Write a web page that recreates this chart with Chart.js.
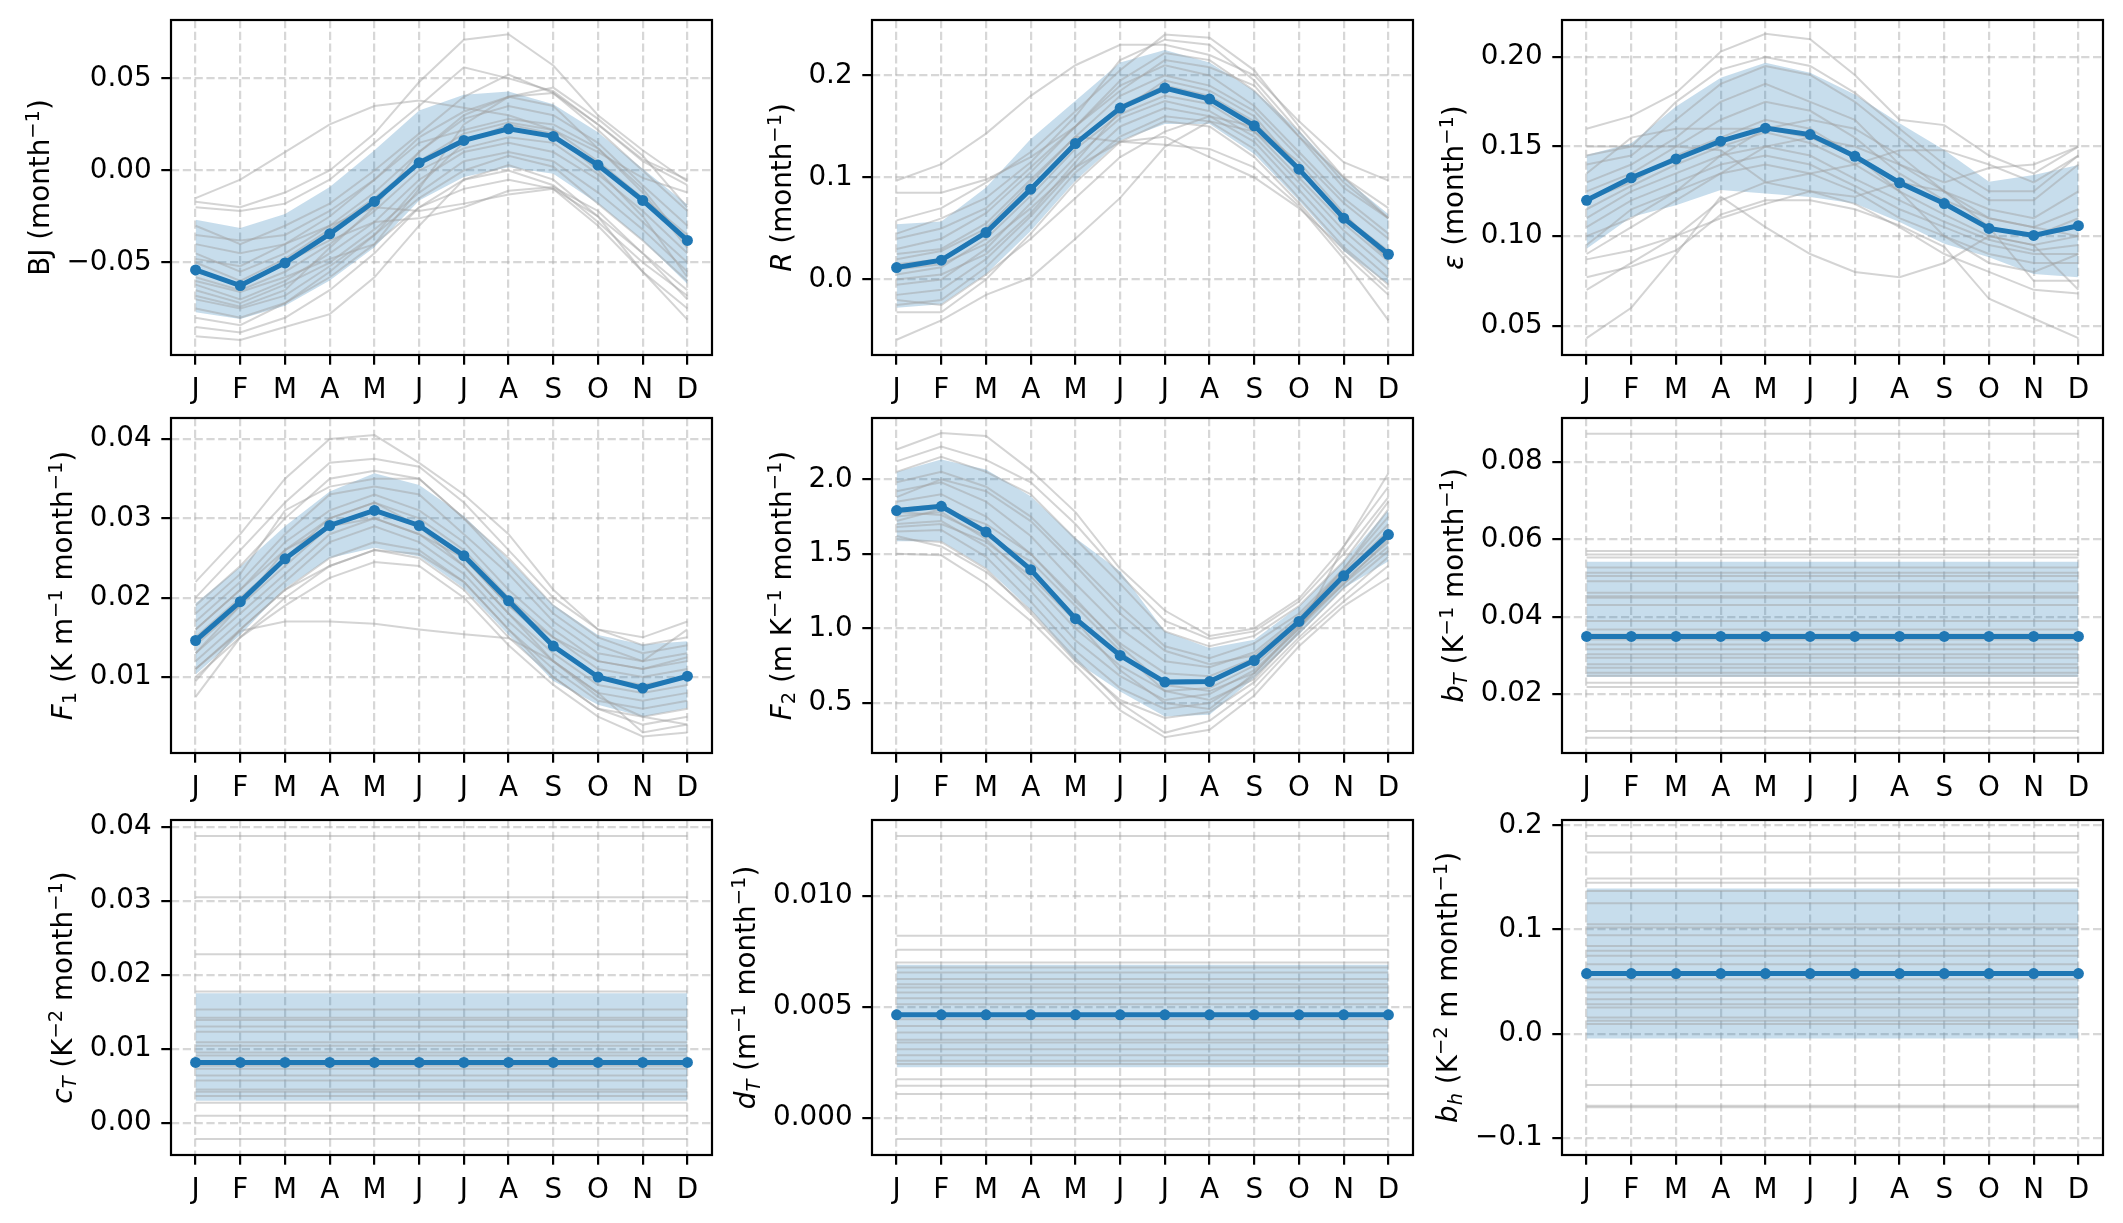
<!DOCTYPE html>
<html>
<head>
<meta charset="utf-8">
<script src="https://cdn.jsdelivr.net/npm/chart.js@4.4.0/dist/chart.umd.min.js"></script>
<style>
  body { margin: 0; background: #fff; width: 2123px; height: 1223px; position: relative; overflow: hidden; }
  canvas { position: absolute; }
</style>
</head>
<body>
<script>
// month ticks
const months = ['J', 'F', 'M', 'A', 'M', 'J', 'J', 'A', 'S', 'O', 'N', 'D'];

// ---- BJ ----
const bjMean  = [-0.054, -0.0625, -0.0502, -0.0344, -0.0168, 0.0042, 0.0163, 0.0226, 0.0185, 0.0029, -0.0163, -0.038];
const bjUpper = [-0.0268, -0.0313, -0.0236, -0.009, 0.011, 0.0326, 0.0411, 0.0429, 0.0359, 0.0208, 0.0009, -0.0185];
const bjLower = [-0.077, -0.0806, -0.0734, -0.0598, -0.0417, -0.0163, -0.0036, 0.0018, -0.0018, -0.0181, -0.038, -0.0616];
const bjMembers = [
  [-0.015, -0.005, 0.010, 0.025, 0.035, 0.038, 0.034, 0.030, 0.022, 0.010, -0.004, -0.012],
  [-0.017, -0.020, -0.012, 0.000, 0.020, 0.048, 0.071, 0.074, 0.057, 0.030, 0.011, -0.006],
  [-0.020, -0.022, -0.018, -0.005, 0.015, 0.035, 0.056, 0.050, 0.043, 0.025, 0.005, -0.008],
  [-0.030, -0.040, -0.030, -0.018, 0.000, 0.020, 0.040, 0.052, 0.042, 0.022, 0.000, -0.022],
  [-0.045, -0.055, -0.045, -0.030, -0.012, 0.010, 0.028, 0.035, 0.030, 0.015, -0.008, -0.030],
  [-0.050, -0.060, -0.048, -0.032, -0.015, 0.005, 0.020, 0.026, 0.022, 0.005, -0.015, -0.035],
  [-0.058, -0.065, -0.055, -0.040, -0.022, 0.000, 0.012, 0.018, 0.015, -0.002, -0.022, -0.045],
  [-0.062, -0.070, -0.060, -0.045, -0.028, -0.005, 0.010, 0.015, 0.010, -0.005, -0.028, -0.050],
  [-0.065, -0.072, -0.062, -0.050, -0.032, -0.012, 0.005, 0.010, 0.005, -0.012, -0.032, -0.055],
  [-0.070, -0.075, -0.068, -0.052, -0.035, -0.015, 0.000, 0.008, 0.002, -0.018, -0.038, -0.060],
  [-0.075, -0.080, -0.072, -0.058, -0.040, -0.020, -0.005, 0.003, -0.005, -0.025, -0.045, -0.065],
  [-0.085, -0.088, -0.080, -0.065, -0.045, -0.020, -0.010, -0.005, -0.010, -0.030, -0.055, -0.075],
  [-0.090, -0.092, -0.085, -0.078, -0.058, -0.030, -0.005, 0.000, -0.008, -0.028, -0.050, -0.068],
  [-0.040, -0.045, -0.040, -0.030, -0.020, -0.022, -0.018, -0.013, -0.010, -0.025, -0.055, -0.081],
  [-0.055, -0.062, -0.050, -0.038, -0.028, -0.026, -0.020, -0.011, -0.009, -0.022, -0.045, -0.070],
  [-0.060, -0.066, -0.058, -0.048, -0.040, -0.010, 0.025, 0.040, 0.045, 0.028, 0.008, -0.020],
  [-0.080, -0.084, -0.072, -0.055, -0.035, -0.008, 0.015, 0.025, 0.020, 0.000, -0.025, -0.058],
  [-0.068, -0.074, -0.065, -0.042, -0.020, 0.010, 0.030, 0.040, 0.035, 0.012, -0.010, -0.040],
  [-0.035, -0.038, -0.035, -0.022, -0.005, 0.018, 0.032, 0.040, 0.042, 0.025, 0.006, -0.005],
  [-0.048, -0.052, -0.040, -0.025, -0.005, 0.015, 0.022, 0.028, 0.025, 0.012, -0.012, -0.042]
];

// ---- R ----
const rMean  = [0.0118, 0.019, 0.0461, 0.0886, 0.1333, 0.168, 0.1876, 0.1768, 0.1507, 0.1082, 0.0601, 0.0248];
const rUpper = [0.0542, 0.0569, 0.0902, 0.1376, 0.1752, 0.2127, 0.2248, 0.2127, 0.185, 0.1458, 0.1, 0.064];
const rLower = [-0.0275, -0.0242, 0.0052, 0.0477, 0.0967, 0.136, 0.1523, 0.1523, 0.1229, 0.0771, 0.0281, -0.0046];
const rMembers = [
  [0.058, 0.070, 0.095, 0.125, 0.165, 0.205, 0.240, 0.237, 0.205, 0.150, 0.100, 0.060],
  [0.097, 0.113, 0.143, 0.180, 0.210, 0.230, 0.230, 0.220, 0.200, 0.155, 0.115, 0.097],
  [0.085, 0.085, 0.098, 0.120, 0.150, 0.185, 0.215, 0.208, 0.190, 0.140, 0.100, 0.070],
  [0.040, 0.050, 0.070, 0.110, 0.150, 0.195, 0.222, 0.215, 0.185, 0.140, 0.090, 0.060],
  [0.025, 0.030, 0.055, 0.098, 0.140, 0.180, 0.200, 0.190, 0.165, 0.120, 0.075, 0.040],
  [0.015, 0.020, 0.048, 0.090, 0.135, 0.170, 0.190, 0.180, 0.155, 0.110, 0.062, 0.028],
  [0.005, 0.012, 0.040, 0.082, 0.128, 0.162, 0.180, 0.172, 0.145, 0.100, 0.055, 0.018],
  [-0.005, 0.000, 0.030, 0.075, 0.120, 0.158, 0.175, 0.165, 0.140, 0.095, 0.048, 0.010],
  [-0.015, -0.010, 0.020, 0.062, 0.110, 0.150, 0.168, 0.160, 0.135, 0.088, 0.040, 0.002],
  [-0.025, -0.020, 0.012, 0.055, 0.105, 0.140, 0.160, 0.155, 0.128, 0.080, 0.032, -0.005],
  [-0.032, -0.032, 0.000, 0.045, 0.095, 0.135, 0.155, 0.150, 0.120, 0.075, 0.025, -0.015],
  [-0.059, -0.040, -0.015, 0.002, 0.040, 0.080, 0.130, 0.155, 0.145, 0.110, 0.060, 0.020],
  [0.010, 0.015, 0.035, 0.070, 0.110, 0.135, 0.140, 0.120, 0.100, 0.070, 0.030, -0.010],
  [0.020, 0.028, 0.050, 0.095, 0.140, 0.135, 0.132, 0.128, 0.110, 0.072, 0.020, -0.040],
  [-0.020, -0.025, 0.005, 0.040, 0.080, 0.120, 0.145, 0.160, 0.150, 0.115, 0.065, 0.020],
  [0.030, 0.040, 0.065, 0.105, 0.150, 0.190, 0.210, 0.200, 0.170, 0.125, 0.080, 0.045],
  [0.000, 0.005, 0.025, 0.065, 0.115, 0.165, 0.195, 0.185, 0.160, 0.110, 0.060, 0.025],
  [0.045, 0.060, 0.080, 0.115, 0.160, 0.215, 0.235, 0.230, 0.195, 0.145, 0.095, 0.060]
];

// ---- epsilon ----
const epsMean  = [0.12, 0.1326, 0.1431, 0.153, 0.1603, 0.1567, 0.1446, 0.1298, 0.1182, 0.1043, 0.1004, 0.1058];
const epsUpper = [0.1453, 0.1518, 0.1724, 0.1884, 0.1968, 0.1912, 0.1791, 0.1631, 0.1481, 0.1303, 0.1341, 0.1397];
const epsLower = [0.0929, 0.1107, 0.1172, 0.1257, 0.1238, 0.1219, 0.1182, 0.1079, 0.0957, 0.0882, 0.0788, 0.077];
const epsMembers = [
  [0.160, 0.167, 0.180, 0.203, 0.213, 0.210, 0.190, 0.165, 0.162, 0.145, 0.135, 0.150],
  [0.150, 0.150, 0.175, 0.193, 0.200, 0.195, 0.180, 0.160, 0.140, 0.125, 0.125, 0.145],
  [0.140, 0.145, 0.165, 0.185, 0.195, 0.190, 0.175, 0.155, 0.135, 0.120, 0.120, 0.140],
  [0.130, 0.140, 0.155, 0.175, 0.185, 0.175, 0.165, 0.140, 0.125, 0.115, 0.110, 0.125],
  [0.125, 0.135, 0.150, 0.165, 0.175, 0.170, 0.155, 0.135, 0.120, 0.110, 0.105, 0.115],
  [0.120, 0.130, 0.145, 0.155, 0.165, 0.160, 0.145, 0.130, 0.118, 0.105, 0.100, 0.110],
  [0.115, 0.128, 0.140, 0.150, 0.158, 0.152, 0.140, 0.125, 0.112, 0.100, 0.095, 0.100],
  [0.110, 0.125, 0.135, 0.145, 0.150, 0.145, 0.132, 0.120, 0.108, 0.098, 0.092, 0.095],
  [0.105, 0.120, 0.130, 0.140, 0.145, 0.140, 0.128, 0.115, 0.105, 0.095, 0.090, 0.090],
  [0.095, 0.115, 0.125, 0.135, 0.140, 0.135, 0.125, 0.110, 0.100, 0.090, 0.085, 0.085],
  [0.043, 0.060, 0.090, 0.122, 0.105, 0.090, 0.080, 0.077, 0.085, 0.100, 0.095, 0.070],
  [0.077, 0.083, 0.092, 0.112, 0.120, 0.120, 0.115, 0.106, 0.094, 0.065, 0.054, 0.043],
  [0.087, 0.092, 0.100, 0.110, 0.118, 0.125, 0.118, 0.105, 0.090, 0.080, 0.070, 0.068],
  [0.145, 0.150, 0.150, 0.148, 0.130, 0.125, 0.122, 0.130, 0.125, 0.110, 0.105, 0.100],
  [0.135, 0.155, 0.160, 0.160, 0.160, 0.155, 0.150, 0.140, 0.130, 0.138, 0.140, 0.150],
  [0.070, 0.085, 0.100, 0.120, 0.130, 0.135, 0.140, 0.148, 0.148, 0.140, 0.130, 0.145],
  [0.100, 0.110, 0.125, 0.145, 0.160, 0.165, 0.160, 0.145, 0.125, 0.105, 0.075, 0.075],
  [0.090, 0.105, 0.120, 0.135, 0.150, 0.155, 0.145, 0.125, 0.100, 0.085, 0.080, 0.090]
];

// ---- F1 ----
const f1Mean  = [0.0146, 0.0195, 0.0249, 0.0291, 0.031, 0.0291, 0.0253, 0.0196, 0.0139, 0.01, 0.0086, 0.0101];
const f1Upper = [0.0193, 0.0239, 0.029, 0.0334, 0.0357, 0.0342, 0.0303, 0.0248, 0.0191, 0.0153, 0.0141, 0.0145];
const f1Lower = [0.0103, 0.0153, 0.0212, 0.025, 0.0263, 0.0252, 0.0212, 0.0153, 0.0095, 0.0065, 0.005, 0.0061];
const f1Members = [
  [0.022, 0.028, 0.035, 0.040, 0.0405, 0.037, 0.033, 0.028, 0.021, 0.016, 0.015, 0.017],
  [0.020, 0.026, 0.032, 0.037, 0.0375, 0.0365, 0.032, 0.026, 0.020, 0.016, 0.014, 0.015],
  [0.019, 0.024, 0.030, 0.035, 0.036, 0.035, 0.030, 0.025, 0.019, 0.015, 0.013, 0.014],
  [0.017, 0.022, 0.028, 0.033, 0.034, 0.033, 0.028, 0.023, 0.017, 0.013, 0.012, 0.013],
  [0.016, 0.021, 0.027, 0.031, 0.033, 0.031, 0.027, 0.021, 0.016, 0.012, 0.011, 0.012],
  [0.015, 0.020, 0.025, 0.030, 0.032, 0.030, 0.026, 0.020, 0.015, 0.011, 0.010, 0.011],
  [0.014, 0.019, 0.024, 0.029, 0.031, 0.029, 0.025, 0.019, 0.014, 0.010, 0.009, 0.010],
  [0.013, 0.018, 0.023, 0.028, 0.030, 0.028, 0.024, 0.018, 0.013, 0.009, 0.008, 0.009],
  [0.012, 0.017, 0.022, 0.027, 0.029, 0.027, 0.023, 0.017, 0.012, 0.008, 0.007, 0.008],
  [0.011, 0.016, 0.021, 0.025, 0.027, 0.026, 0.022, 0.016, 0.011, 0.007, 0.006, 0.007],
  [0.010, 0.015, 0.020, 0.024, 0.026, 0.025, 0.021, 0.015, 0.010, 0.006, 0.004, 0.005],
  [0.0075, 0.015, 0.019, 0.0225, 0.0245, 0.024, 0.020, 0.014, 0.009, 0.005, 0.0025, 0.003],
  [0.011, 0.0158, 0.017, 0.017, 0.0167, 0.016, 0.0154, 0.0149, 0.012, 0.0075, 0.005, 0.004],
  [0.018, 0.023, 0.031, 0.034, 0.035, 0.035, 0.030, 0.024, 0.018, 0.014, 0.012, 0.016],
  [0.013, 0.019, 0.026, 0.030, 0.032, 0.029, 0.024, 0.018, 0.012, 0.008, 0.003, 0.004],
  [0.016, 0.021, 0.026, 0.029, 0.030, 0.028, 0.025, 0.019, 0.015, 0.012, 0.011, 0.0125],
  [0.0095, 0.016, 0.021, 0.024, 0.026, 0.0255, 0.022, 0.016, 0.010, 0.006, 0.005, 0.006]
];

// ---- F2 ----
const f2Mean  = [1.79, 1.819, 1.647, 1.394, 1.065, 0.819, 0.64, 0.644, 0.785, 1.047, 1.353, 1.629];
const f2Upper = [2.049, 2.132, 2.065, 1.886, 1.606, 1.383, 0.98, 0.868, 0.924, 1.148, 1.45, 1.796];
const f2Lower = [1.584, 1.584, 1.405, 1.125, 0.778, 0.577, 0.409, 0.421, 0.667, 0.957, 1.27, 1.45];
const f2Members = [
  [2.20, 2.31, 2.29, 2.06, 1.78, 1.40, 1.12, 0.95, 1.00, 1.20, 1.55, 2.04],
  [2.12, 2.22, 2.13, 1.98, 1.70, 1.36, 1.05, 0.93, 0.98, 1.18, 1.50, 1.88],
  [2.05, 2.15, 2.05, 1.90, 1.60, 1.30, 0.98, 0.88, 0.95, 1.15, 1.45, 1.85],
  [1.98, 2.05, 1.95, 1.75, 1.45, 1.15, 0.88, 0.80, 0.90, 1.10, 1.40, 1.75],
  [1.92, 1.98, 1.85, 1.62, 1.30, 1.00, 0.78, 0.74, 0.84, 1.08, 1.38, 1.70],
  [1.85, 1.90, 1.75, 1.50, 1.18, 0.90, 0.70, 0.68, 0.80, 1.05, 1.36, 1.66],
  [1.80, 1.83, 1.66, 1.40, 1.08, 0.82, 0.64, 0.64, 0.78, 1.04, 1.34, 1.62],
  [1.75, 1.78, 1.60, 1.32, 1.00, 0.75, 0.58, 0.60, 0.75, 1.02, 1.32, 1.58],
  [1.70, 1.72, 1.55, 1.25, 0.92, 0.68, 0.52, 0.56, 0.72, 1.00, 1.30, 1.55],
  [1.65, 1.66, 1.48, 1.18, 0.85, 0.60, 0.46, 0.50, 0.68, 0.97, 1.27, 1.52],
  [1.60, 1.58, 1.40, 1.10, 0.78, 0.52, 0.40, 0.44, 0.64, 0.94, 1.22, 1.48],
  [1.50, 1.49, 1.30, 1.05, 0.75, 0.45, 0.27, 0.32, 0.55, 0.88, 1.15, 1.34],
  [1.62, 1.55, 1.38, 1.12, 0.80, 0.50, 0.30, 0.38, 0.60, 0.92, 1.18, 1.42],
  [1.88, 2.00, 1.92, 1.72, 1.42, 1.10, 0.85, 0.76, 0.82, 1.06, 1.40, 1.80],
  [1.72, 1.80, 1.70, 1.50, 1.20, 0.88, 0.62, 0.58, 0.70, 1.00, 1.35, 1.65],
  [1.78, 1.76, 1.62, 1.45, 1.15, 0.85, 0.58, 0.52, 0.66, 0.98, 1.55, 1.95],
  [1.68, 1.70, 1.58, 1.35, 1.05, 0.72, 0.50, 0.46, 0.70, 1.02, 1.30, 1.60]
];

// ---- constant parameters (one value per member) ----
const bTMembers = [0.0873, 0.057, 0.0561, 0.0553, 0.0527, 0.0514, 0.0505, 0.0492, 0.0462, 0.0453, 0.0449, 0.043, 0.0389, 0.0367,
  0.0354, 0.0341, 0.0328, 0.0316, 0.0303, 0.0294, 0.0277, 0.0268, 0.0255, 0.0247, 0.0229, 0.0218, 0.0104, 0.0087];
const bTStats = [0.0349, 0.0542, 0.0244]; // mean, upper, lower

const cTMembers = [0.0388, 0.0305, 0.0228, 0.01775, 0.0153, 0.0142, 0.0139, 0.013, 0.0123, 0.0109, 0.0104, 0.0095, 0.0091,
  0.0077, 0.0073, 0.0064, 0.0057, 0.0045, 0.0042, 0.0036, 0.0027, 0.00095, -0.0022];
const cTStats = [0.00815, 0.01752, 0.00297];

const dTMembers = [0.0127, 0.0082, 0.00757, 0.007, 0.00677, 0.00655, 0.00625, 0.00602, 0.00587, 0.00565, 0.00538, 0.00512,
  0.00444, 0.00414, 0.00384, 0.00351, 0.00339, 0.00309, 0.00282, 0.00257, 0.00242, 0.00174, 0.00144, 0.00107, -0.00096];
const dTStats = [0.00464, 0.00689, 0.00227];

const bhMembers = [0.1898, 0.1738, 0.1489, 0.145, 0.137, 0.1252, 0.1051, 0.1019, 0.0946, 0.0843, 0.0796, 0.0748, 0.0668,
  0.0524, 0.0444, 0.0396, 0.0332, 0.0284, 0.0252, 0.0157, 0.0125, 0.0093, -0.0492, -0.069, -0.0706];
const bhStats = [0.0578, 0.1393, -0.0045];

// ---------------------------------------------------------------
const FONT = 'DejaVu Sans';
const FS = 27.8;      // 10pt at 200 dpi
const TICK = 9.7;     // 3.5pt
const YW = 171;       // room left of the axes
const PT = 30, PR = 25, XH = 50;   // PT must exceed the y-scale label half height + padding
const AW = 541, AH = 335;
const GRID = 'rgba(176,176,176,0.5)';

const flat = v => months.map(() => v);

function fmt(v, d) {
  return (v < -1e-12 ? '\u2212' : '') + Math.abs(v).toFixed(d);
}

// tiny markup: *x* italic, ^{..} superscript, _{..} subscript
function parseLabel(str) {
  return str.match(/\^\{[^}]*\}|_\{[^}]*\}|\*[^*]+\*|[^^_*]+/g).map(p => {
    let kind = 'base', t = p;
    if (p[0] === '^') { kind = 'sup'; t = p.slice(2, -1); }
    else if (p[0] === '_') { kind = 'sub'; t = p.slice(2, -1); }
    let italic = false;
    if (t[0] === '*') { italic = true; t = t.slice(1, -1); }
    return { t, kind, italic };
  });
}

const framePlugin = {
  id: 'frame',
  afterDatasetsDraw(chart) {
    const { ctx, chartArea: a } = chart;
    ctx.save();
    ctx.strokeStyle = '#000';
    ctx.lineWidth = 2.2;
    ctx.strokeRect(a.left, a.top, a.right - a.left, a.bottom - a.top);
    ctx.restore();
  },
  afterDraw(chart, args, opts) {
    const { ctx, chartArea: a } = chart;
    ctx.save();
    ctx.font = FS + 'px "' + FONT + '"';
    let maxW = 0;
    chart.scales.y.ticks.forEach(t => { maxW = Math.max(maxW, ctx.measureText(String(t.label)).width); });
    const xRight = a.left - 2 * TICK - maxW - 11;
    const segs = parseLabel(opts.text).map(s => {
      const size = s.kind === 'base' ? FS : FS * 0.7;
      const font = (s.italic ? 'italic ' : '') + size + 'px "' + FONT + '"';
      ctx.font = font;
      return Object.assign({}, s, { font, w: ctx.measureText(s.t).width });
    });
    const total = segs.reduce((acc, s) => acc + s.w, 0);
    ctx.translate(xRight, (a.top + a.bottom) / 2);
    ctx.rotate(-Math.PI / 2);
    ctx.fillStyle = '#000';
    ctx.textBaseline = 'alphabetic';
    let x = -total / 2;
    const base = -FS * 0.24;
    for (const s of segs) {
      ctx.font = s.font;
      const dy = s.kind === 'sup' ? -FS * 0.36 : s.kind === 'sub' ? FS * 0.15 : 0;
      ctx.fillText(s.t, x, base + dy);
      x += s.w;
    }
    ctx.restore();
  }
};

function makePanel(p) {
  const canvas = document.createElement('canvas');
  canvas.width = YW + AW + PR;
  canvas.height = PT + AH + XH;
  canvas.style.left = (p.left - YW) + 'px';
  canvas.style.top = (p.top - PT) + 'px';
  document.body.appendChild(canvas);

  const pts = arr => arr.map((v, i) => ({ x: i, y: v }));
  const datasets = [
    { data: pts(p.mean), borderColor: '#1f77b4', borderWidth: 5, pointRadius: 5.5,
      pointBackgroundColor: '#1f77b4', pointBorderColor: '#1f77b4', pointBorderWidth: 0, fill: false },
    ...p.members.map(m => ({ data: pts(m), borderColor: 'rgba(160,160,160,0.45)', borderWidth: 2,
      pointRadius: 0, fill: false })),
    { data: pts(p.upper), borderWidth: 0, pointRadius: 0, fill: '+1', backgroundColor: 'rgba(31,119,180,0.25)' },
    { data: pts(p.lower), borderWidth: 0, pointRadius: 0, fill: false }
  ];

  const axisCommon = {
    grid: { color: GRID, lineWidth: 2.2, tickColor: '#000', tickWidth: 2.2, tickLength: TICK },
    border: { display: false, dash: [8.2, 3.6] }
  };

  new Chart(canvas, {
    type: 'line',
    data: { datasets },
    plugins: [framePlugin],
    options: {
      responsive: false,
      animation: false,
      devicePixelRatio: 1,
      events: [],
      layout: { padding: { left: 0, top: PT, right: PR, bottom: 0 } },
      elements: { line: { tension: 0 } },
      plugins: { legend: { display: false }, tooltip: { enabled: false }, frame: { text: p.label } },
      scales: {
        x: Object.assign({}, axisCommon, {
          type: 'linear', min: -0.55, max: 11.55,
          afterBuildTicks: s => { s.ticks = months.map((m, i) => ({ value: i })); },
          afterFit: s => { s.height = XH; },
          ticks: { callback: v => months[v], autoSkip: false, maxRotation: 0, padding: TICK,
            color: '#000', font: { family: FONT, size: FS } }
        }),
        y: Object.assign({}, axisCommon, {
          type: 'linear', min: p.yMin, max: p.yMax,
          afterBuildTicks: s => { s.ticks = p.ticks.map(v => ({ value: v })); },
          afterFit: s => { s.width = YW; },
          ticks: { callback: v => fmt(v, p.dec), padding: TICK, color: '#000', font: { family: FONT, size: FS } }
        })
      }
    }
  });
}

const colLeft = [171, 872, 1562];
const rowTop = [20, 418, 820];

const panels = [
  { label: 'BJ (month^{\u22121})', mean: bjMean, upper: bjUpper, lower: bjLower, members: bjMembers,
    yMin: -0.1002, yMax: 0.0817, ticks: [-0.05, 0, 0.05], dec: 2 },
  { label: '*R* (month^{\u22121})', mean: rMean, upper: rUpper, lower: rLower, members: rMembers,
    yMin: -0.0739, yMax: 0.2543, ticks: [0, 0.1, 0.2], dec: 1 },
  { label: '*\u03b5* (month^{\u22121})', mean: epsMean, upper: epsUpper, lower: epsLower, members: epsMembers,
    yMin: 0.0336, yMax: 0.2207, ticks: [0.05, 0.10, 0.15, 0.20], dec: 2 },
  { label: '*F*_{1} (K m^{\u22121} month^{\u22121})', mean: f1Mean, upper: f1Upper, lower: f1Lower, members: f1Members,
    yMin: 0.00042, yMax: 0.04265, ticks: [0.01, 0.02, 0.03, 0.04], dec: 2 },
  { label: '*F*_{2} (m K^{\u22121} month^{\u22121})', mean: f2Mean, upper: f2Upper, lower: f2Lower, members: f2Members,
    yMin: 0.1647, yMax: 2.411, ticks: [0.5, 1.0, 1.5, 2.0], dec: 1 },
  { label: '*b*_{*T*} (K^{\u22121} month^{\u22121})', mean: flat(bTStats[0]), upper: flat(bTStats[1]), lower: flat(bTStats[2]),
    members: bTMembers.map(flat), yMin: 0.00474, yMax: 0.0914, ticks: [0.02, 0.04, 0.06, 0.08], dec: 2 },
  { label: '*c*_{*T*} (K^{\u22122} month^{\u22121})', mean: flat(cTStats[0]), upper: flat(cTStats[1]), lower: flat(cTStats[2]),
    members: cTMembers.map(flat), yMin: -0.00437, yMax: 0.04095, ticks: [0, 0.01, 0.02, 0.03, 0.04], dec: 2 },
  { label: '*d*_{*T*} (m^{\u22121} month^{\u22121})', mean: flat(dTStats[0]), upper: flat(dTStats[1]), lower: flat(dTStats[2]),
    members: dTMembers.map(flat), yMin: -0.00168, yMax: 0.01342, ticks: [0, 0.005, 0.01], dec: 3 },
  { label: '*b*_{*h*} (K^{\u22122} m month^{\u22121})', mean: flat(bhStats[0]), upper: flat(bhStats[1]), lower: flat(bhStats[2]),
    members: bhMembers.map(flat), yMin: -0.1163, yMax: 0.2051, ticks: [-0.1, 0, 0.1, 0.2], dec: 1 }
];

panels.forEach((p, k) => {
  p.left = colLeft[k % 3];
  p.top = rowTop[Math.floor(k / 3)];
  makePanel(p);
});
</script>
</body>
</html>
